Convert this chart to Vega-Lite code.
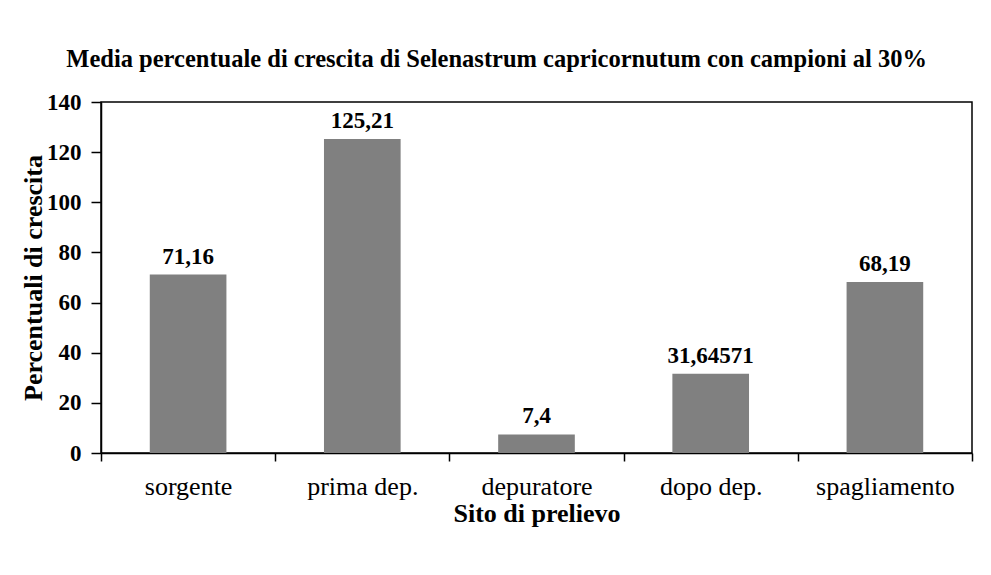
{
  "$schema": "https://vega.github.io/schema/vega-lite/v6.json",
  "autosize": {"type": "none"},
  "width": 871,
  "height": 351,
  "padding": {"left": 101, "top": 102, "right": 19, "bottom": 122},
  "background": "white",
  "config": {
    "locale": {"number": {"decimal": ",", "thousands": ".", "grouping": [3], "currency": ["", " €"]}},
    "view": {"stroke": "black", "strokeWidth": 1.5},
    "font": "Liberation Serif",
    "axis": {"grid": false, "domainColor": "black", "domainWidth": 1.5, "tickColor": "black", "tickWidth": 1.5, "labelColor": "black", "titleColor": "black", "labelFont": "Liberation Serif", "titleFont": "Liberation Serif"}
  },
  "title": {
    "text": "Media percentuale di crescita di Selenastrum capricornutum con campioni al 30%",
    "font": "Liberation Serif",
    "fontSize": 24.5,
    "fontWeight": "bold",
    "color": "black",
    "anchor": "middle",
    "frame": "bounds",
    "offset": 19
  },
  "data": {
    "values": [
      {"sito": "sorgente", "valore": 71.16},
      {"sito": "prima dep.", "valore": 125.21},
      {"sito": "depuratore", "valore": 7.4},
      {"sito": "dopo dep.", "valore": 31.64571},
      {"sito": "spagliamento", "valore": 68.19}
    ]
  },
  "encoding": {
    "x": {
      "field": "sito",
      "type": "nominal",
      "sort": null,
      "scale": {"paddingInner": 0, "paddingOuter": 0},
      "axis": {
        "title": "Sito di prelievo",
        "labelAngle": 0,
        "labelFontSize": 26,
        "labelFontWeight": "normal",
        "labelPadding": 12,
        "tickSize": 8,
        "tickBand": "extent",
        "titleFontSize": 26,
        "titleFontWeight": "bold",
        "titlePadding": 1
      }
    },
    "y": {
      "field": "valore",
      "type": "quantitative",
      "scale": {"domain": [0, 140]},
      "axis": {
        "title": "Percentuali di crescita",
        "values": [0, 20, 40, 60, 80, 100, 120, 140],
        "labelFontSize": 23,
        "labelFontWeight": "bold",
        "labelPadding": 10,
        "tickSize": 10,
        "titleFontSize": 26,
        "titleFontWeight": "bold",
        "titlePadding": 0
      }
    }
  },
  "layer": [
    {"mark": {"type": "bar", "color": "#808080", "width": {"band": 0.44}}},
    {
      "mark": {"type": "text", "baseline": "bottom", "dy": -6, "fontSize": 23, "fontWeight": "bold", "color": "black", "font": "Liberation Serif"},
      "encoding": {"text": {"field": "valore", "type": "quantitative", "format": ".7~g"}}
    }
  ]
}
